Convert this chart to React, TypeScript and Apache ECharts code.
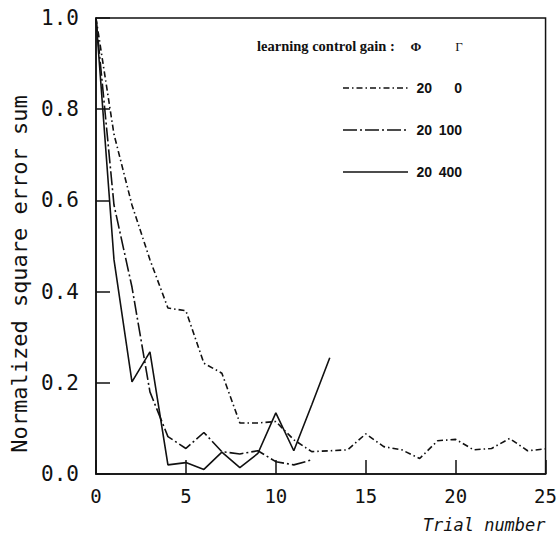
import React, { useEffect, useRef } from "react";
import * as echarts from "echarts";

const trials = [0, 1, 2, 3, 4, 5, 6, 7, 8, 9, 10, 11, 12, 13, 14, 15, 16, 17, 18, 19, 20, 21, 22, 23, 24, 25];
const gamma0 = [1.0, 0.745, 0.59, 0.47, 0.364, 0.358, 0.243, 0.221, 0.112, 0.112, 0.115, 0.075, 0.049, 0.051, 0.053, 0.088, 0.06, 0.053, 0.034, 0.073, 0.076, 0.053, 0.056, 0.078, 0.051, 0.055];
const gamma100 = [1.0, 0.59, 0.41, 0.18, 0.082, 0.056, 0.091, 0.049, 0.044, 0.051, 0.027, 0.02, 0.031];
const gamma400 = [1.0, 0.47, 0.202, 0.268, 0.02, 0.025, 0.01, 0.048, 0.014, 0.045, 0.134, 0.051, 0.152, 0.255];
const yTicks = [0, 0.2, 0.4, 0.6, 0.8, 1.0];
const xTicks = [0, 5, 10, 15, 20, 25];
const legendPhi = ["20", "20", "20"];
const legendGamma = ["0", "100", "400"];

const DASH0 = [6, 3, 1.5, 3];
const DASH100 = [14, 3, 2, 3];

export default function App() {
  const ref = useRef<HTMLDivElement>(null);
  useEffect(() => {
    document.body.style.margin = "0";
    if (!ref.current) return;
    const chart = echarts.init(ref.current, undefined, { renderer: "svg" });
    const mono = "DejaVu Sans Mono";
    const toPairs = (vals: number[]) => vals.map((v, i) => [trials[i], v]);
    const lineSeries = (name: string, vals: number[], type: any) => ({
      name,
      type: "line",
      data: toPairs(vals),
      symbol: "none",
      lineStyle: { color: "#111", width: 1.6, type },
      z: 3,
    });
    const rowsY = [88, 130, 172];
    const styles = [DASH0, DASH100, "solid"];
    const legendEls: any[] = [
      {
        type: "text",
        x: 257,
        y: 46,
        style: { text: "learning control gain :", font: "bold 14.5px 'Liberation Serif'", fill: "#111", align: "left", verticalAlign: "middle" },
      },
      { type: "text", x: 416, y: 46, style: { text: "Φ", font: "bold 13px 'Liberation Serif'", fill: "#111", align: "center", verticalAlign: "middle" } },
      { type: "text", x: 459, y: 46, style: { text: "Γ", font: "13px 'Liberation Serif'", fill: "#111", align: "center", verticalAlign: "middle" } },
    ];
    rowsY.forEach((y, i) => {
      legendEls.push({
        type: "line",
        shape: { x1: 343, y1: y, x2: 408, y2: y },
        style: { stroke: "#111", lineWidth: 1.6, lineDash: styles[i] === "solid" ? null : styles[i] },
      });
      legendEls.push({
        type: "text",
        x: 432,
        y: y,
        style: { text: legendPhi[i], font: "bold 14px 'Liberation Sans'", fill: "#111", align: "right", verticalAlign: "middle" },
      });
      legendEls.push({
        type: "text",
        x: 462,
        y: y,
        style: { text: legendGamma[i], font: "bold 14px 'Liberation Sans'", fill: "#111", align: "right", verticalAlign: "middle" },
      });
    });
    chart.setOption({
      animation: false,
      backgroundColor: "#fff",
      grid: { left: 91, right: 13, top: 18, bottom: 69, show: true, borderColor: "#111", borderWidth: 1.5, backgroundColor: "transparent" },
      xAxis: {
        type: "value",
        min: 0,
        max: 25,
        interval: 5,
        axisLine: { show: true, lineStyle: { color: "#111", width: 1.5 } },
        axisTick: { show: true, inside: true, length: 14, lineStyle: { color: "#111", width: 1.5 } },
        axisLabel: { color: "#111", fontFamily: mono, fontSize: 19, margin: 12, formatter: (v: number) => (xTicks.includes(v) ? String(v) : "") },
        splitLine: { show: false },
        name: "Trial number",
        nameLocation: "end",
        nameGap: 0,
        nameTextStyle: { color: "#111", fontFamily: mono, fontSize: 17, fontStyle: "italic", align: "right", verticalAlign: "top", padding: [42, 0, 0, 0] },
      },
      yAxis: {
        type: "value",
        min: 0,
        max: 1,
        interval: 0.2,
        axisLine: { show: true, lineStyle: { color: "#111", width: 1.5 } },
        axisTick: { show: true, inside: true, length: 14, lineStyle: { color: "#111", width: 1.5 } },
        axisLabel: { color: "#111", fontFamily: mono, fontSize: 21, margin: 17, formatter: (v: number) => (yTicks.some((t) => Math.abs(t - v) < 1e-6) ? v.toFixed(1) : "") },
        splitLine: { show: false },
        name: "Normalized square error sum",
        nameLocation: "middle",
        nameGap: 66,
        nameTextStyle: { color: "#111", fontFamily: mono, fontSize: 22, padding: [0, 56, 0, 0] },
      },
      series: [
        lineSeries("Φ 20, Γ 0", gamma0, DASH0),
        lineSeries("Φ 20, Γ 100", gamma100, DASH100),
        lineSeries("Φ 20, Γ 400", gamma400, "solid"),
      ],
      graphic: legendEls,
    });
    return () => chart.dispose();
  }, []);
  return <div ref={ref} style={{ width: 560, height: 543 }} />;
}
